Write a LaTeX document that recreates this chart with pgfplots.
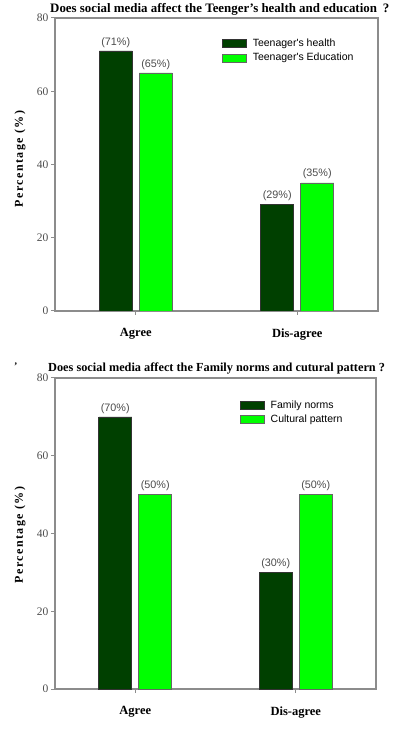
\documentclass[border=0pt]{standalone}
\usepackage{pgfplots}
\pgfplotsset{compat=1.18}
\usepackage{fontspec}
\setmainfont{Liberation Serif}
\newfontfamily\arial{Liberation Sans}
\definecolor{dkgreen}{RGB}{0,64,0}
\definecolor{ltgreen}{RGB}{0,255,0}
\definecolor{axgray}{RGB}{140,140,140}
\definecolor{txtgray}{RGB}{75,75,75}
\pgfplotsset{
  panel/.style={
    scale only axis,
    anchor=south west,
    ybar=7pt, bar width=33pt,
    xmin=-0.5, xmax=1.5, ymin=0, ymax=80,
    xtick={0,1}, xticklabels={Agree,Dis-agree},
    ytick={0,20,40,60,80},
    xtick pos=left, ytick pos=left,
    axis line style={axgray, line width=1.2pt},
    tick style={axgray, line width=1pt},
    tick align=outside,
    major tick length=4pt,
    xticklabel style={font=\bfseries\fontsize{12.5}{14}\selectfont, black, yshift=-10pt},
    yticklabel style={font=\fontsize{11.5}{12}\selectfont, txtgray, xshift=1pt},
    /pgf/number format/assume math mode=true,
    nodes near coords={(\pgfmathprintnumber{\pgfplotspointmeta}\%)},
    every node near coord/.append style={font=\arial\fontsize{10.8}{12}\selectfont, text=txtgray},
    legend style={draw=none, fill=none, font=\arial\fontsize{10.5}{12}\selectfont, anchor=north west, inner sep=0pt, row sep=1pt, column sep=4pt, text=black},
    legend cell align=left,
  }
}
\begin{document}
\begin{tikzpicture}
\begin{axis}[panel, at={(55pt,439pt)}, width=323pt, height=293pt,
  legend image code/.code={\draw[#1] (0pt,-4pt) rectangle (24pt,4pt);},
  legend style={at={(rel axis cs:0.517,0.935)}}]
\addplot[fill=dkgreen, draw=black!80, line width=0.6pt] coordinates {(0,71) (1,29)};
\addplot[fill=ltgreen, draw=black!60, line width=0.6pt] coordinates {(0,65) (1,35)};
\addlegendentry{Teenager's health}
\addlegendentry{Teenager's Education}
\end{axis}
\begin{axis}[panel, at={(55pt,61pt)}, width=321pt, height=311pt,
  legend image code/.code={\draw[#1] (0pt,-4pt) rectangle (24pt,4pt);},
  legend style={at={(rel axis cs:0.576,0.935)}}]
\addplot[fill=dkgreen, draw=black!80, line width=0.6pt] coordinates {(0,70) (1,30)};
\addplot[fill=ltgreen, draw=black!60, line width=0.6pt] coordinates {(0,50) (1,50)};
\addlegendentry{Family norms}
\addlegendentry{Cultural pattern}
\end{axis}
\node[anchor=base west, font=\bfseries\fontsize{12.9}{14}\selectfont, inner sep=0pt] at (50pt,737.5pt) {Does social media affect the Teenger's health and education\hspace{6pt}?};
\node[anchor=base west, font=\bfseries\fontsize{12.3}{14}\selectfont, inner sep=0pt] at (48pt,378pt) {Does social media affect the Family norms and cutural pattern ?};
\node[anchor=base west, font=\bfseries\fontsize{10}{12}\selectfont, inner sep=0pt] at (14pt,380pt) {'};
\node[rotate=90, font=\bfseries\fontsize{12}{14}\selectfont\addfontfeature{LetterSpace=12}] at (20pt,591pt) {Percentage (\%)};
\node[rotate=90, font=\bfseries\fontsize{12}{14}\selectfont\addfontfeature{LetterSpace=12}] at (20pt,215pt) {Percentage (\%)};
\pgfresetboundingbox
\useasboundingbox (0pt,0pt) rectangle (394pt,750pt);
\end{tikzpicture}
\end{document}
